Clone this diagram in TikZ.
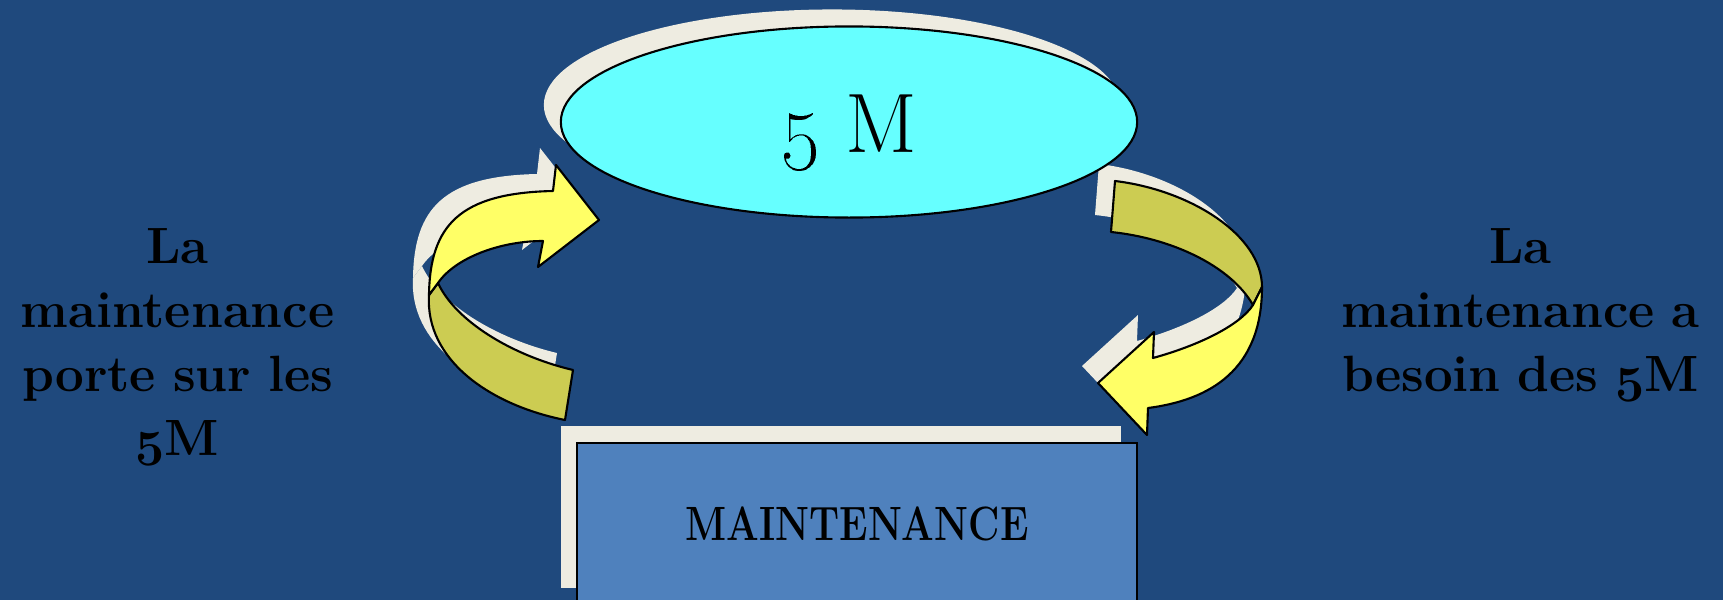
\documentclass[tikz,border=0pt]{standalone}
\usetikzlibrary{shapes.geometric}

\definecolor{bgblue}{HTML}{1F497D}
\definecolor{shadowcream}{HTML}{EEECE1}
\definecolor{cyanfill}{HTML}{66FFFF}
\definecolor{boxblue}{HTML}{4F81BD}
\definecolor{arrowyellow}{HTML}{FFFF66}
\definecolor{arrowolive}{HTML}{CCCC52}

% bold old-style five for the side texts
\newcommand{\boldfive}{{\usefont{OML}{cmm}{b}{it}5}}

% Outlines of the two twisted ribbon arrows (pixel units)
\newcommand{\LArrowFront}{(429,295) .. controls (430,225) and (460,193) .. (553,191) -- (556,165) -- (599,220) -- (538,267) -- (543,241) .. controls (500,241) and (455,258) .. (438,283) -- cycle}
\newcommand{\LArrowBack}{(429,295) .. controls (425,360) and (490,405) .. (565,420) -- (573,370) .. controls (510,355) and (455,320) .. (438,283) -- cycle}
\newcommand{\RArrowBack}{(1115,181) .. controls (1190,190) and (1262,235) .. (1262,287) -- (1253,305) .. controls (1230,265) and (1170,238) .. (1111,232) -- cycle}
\newcommand{\RArrowFront}{(1262,287) .. controls (1262,370) and (1210,400) .. (1148,408) -- (1147,435) -- (1098,383) -- (1154,332) -- (1153,358) .. controls (1200,345) and (1240,325) .. (1253,305) -- cycle}

\begin{document}
\begin{tikzpicture}[x=0.01cm,y=-0.01cm,
  outline/.style={draw=black, line width=0.6pt, line join=round},
  dropshadow/.style={fill=shadowcream, draw=none, shift={(-16,-17)}},
  sidelabel/.style={text width=4cm, align=center, anchor=base, inner sep=0pt,
    font=\fontsize{14.5pt}{18.2pt}\selectfont\bfseries},
  oval/.style={ellipse, minimum width=5.76cm, minimum height=1.91cm, inner sep=0pt},
  panel/.style={rectangle, minimum width=5.60cm, minimum height=1.62cm, inner sep=0pt}]

\fill[bgblue] (0,0) rectangle (1723,600);
\useasboundingbox (0,0) rectangle (1723,600);

% drop shadows
\node[oval, fill=shadowcream] (ovalshadow) at (832,105) {};
\node[panel, fill=shadowcream] (panelshadow) at (841,507) {};
\fill[dropshadow] \LArrowFront;
\fill[dropshadow] \LArrowBack;
\fill[dropshadow] \RArrowBack;
\fill[dropshadow] \RArrowFront;

% main shapes
\node[oval, fill=cyanfill, draw=black, line width=0.6pt] (fivem) at (849,122) {};
\node[anchor=base, inner sep=0pt, font=\fontsize{24pt}{28pt}\selectfont] (fivemtext) at (849,152) {\oldstylenums{5} M};

\node[panel, fill=boxblue, draw=black, line width=0.75pt,
  font=\fontsize{13.7pt}{16pt}\selectfont\bfseries] (maint) at (857,524) {\scalebox{0.8}[1]{MAINTENANCE}};

% twisted arrows
\filldraw[outline, fill=arrowolive] \LArrowBack;
\filldraw[outline, fill=arrowyellow] \LArrowFront;
\filldraw[outline, fill=arrowolive] \RArrowBack;
\filldraw[outline, fill=arrowyellow] \RArrowFront;

% side texts
\node[sidelabel] (lefttext) at (177.5,263) {La\\maintenance\\porte sur les\\\boldfive M};
\node[sidelabel] (righttext) at (1520.5,263) {La\\maintenance a\\besoin des \boldfive M};

\end{tikzpicture}
\end{document}
